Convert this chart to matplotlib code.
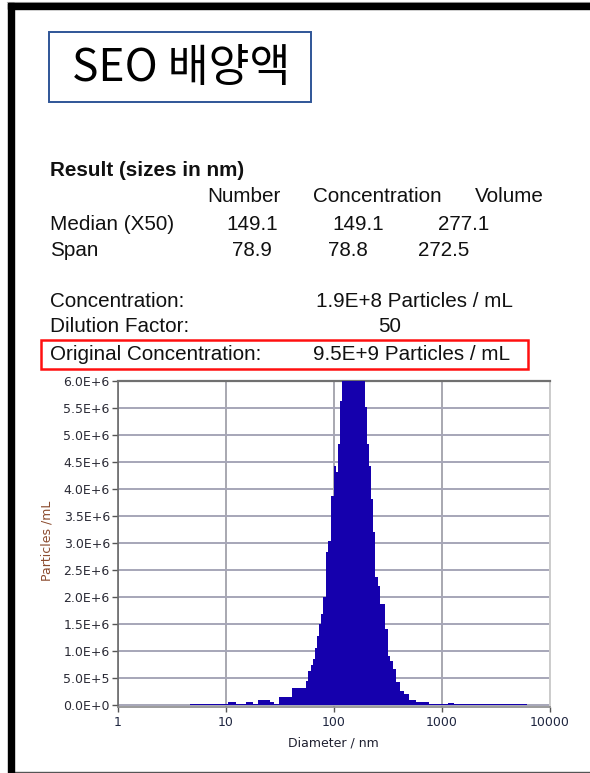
import numpy as np
import matplotlib
matplotlib.use("Agg")
import matplotlib.pyplot as plt
from matplotlib.patches import Rectangle
from matplotlib.ticker import FuncFormatter, FixedLocator

# ---------------- data ----------------
title_text = "SEO 배양액"
result_title = "Result (sizes in nm)"
col_headers = ["Number", "Concentration", "Volume"]
median_vals = ["149.1", "149.1", "277.1"]
span_vals = ["78.9", "78.8", "272.5"]
conc_label, conc_value = "Concentration:", "1.9E+8 Particles / mL"
dil_label, dil_value = "Dilution Factor:", "50"
orig_label, orig_value = "Original Concentration:", "9.5E+9 Particles / mL"

# histogram bin edges (nm) and heights (particles/mL)
bin_edges = [4.7, 10.5, 12.5, 15.5, 18, 20, 26, 28, 31, 41, 55, 58, 61, 64, 67,
             70, 73, 76, 80, 84, 89, 95, 100, 104, 109, 114, 118, 196, 204, 213,
             222, 232, 243, 256, 270, 296, 315, 330, 350, 380, 410, 450, 500,
             580, 760, 1150, 1300, 6100]
bin_heights = [0.02, 0.06, 0.02, 0.05, 0.03, 0.10, 0.06, 0.03, 0.15, 0.32, 0.45,
               0.63, 0.75, 0.85, 1.05, 1.28, 1.50, 1.68, 2.00, 2.83, 3.04, 3.87,
               4.43, 4.31, 4.83, 5.63, 6.50, 5.52, 4.83, 4.43, 3.81, 3.20, 2.37,
               2.20, 1.87, 1.41, 0.91, 0.81, 0.67, 0.42, 0.26, 0.20, 0.10, 0.05,
               0.02, 0.04, 0.02]
bin_heights = [h * 1e6 for h in bin_heights]

y_ticks = [0, 0.5e6, 1.0e6, 1.5e6, 2.0e6, 2.5e6, 3.0e6, 3.5e6, 4.0e6, 4.5e6,
           5.0e6, 5.5e6, 6.0e6]
x_ticks = [1, 10, 100, 1000, 10000]
x_tick_labels = ["1", "10", "100", "1000", "10000"]

# ---------------- figure ----------------
W, H = 590, 773
fig = plt.figure(figsize=(W / 100, H / 100), dpi=100)
fig.patch.set_facecolor("white")


def fx(px):
    return px / W


def fy(py):
    return 1 - py / H


# page border
fig.patches.append(Rectangle((fx(8), fy(9)), fx(590 - 8), 6 / H, transform=fig.transFigure,
                             color="black", zorder=5))
fig.patches.append(Rectangle((fx(8), 0), 6 / W, fy(3), transform=fig.transFigure,
                             color="black", zorder=5))
fig.add_artist(plt.Line2D([fx(7), 1], [fy(1.5), fy(1.5)], transform=fig.transFigure,
                          color="#b0b0b0", lw=0.8))
fig.add_artist(plt.Line2D([fx(14), 1], [fy(772), fy(772)], transform=fig.transFigure,
                          color="#555555", lw=1.0))

# title box
fig.patches.append(Rectangle((fx(49), fy(102)), fx(311 - 49), (102 - 32) / H,
                             transform=fig.transFigure, fill=False,
                             edgecolor="#2F5597", lw=1.4))
fig.text(fx(181), fy(68), title_text, ha="center", va="center", fontsize=32,
         family=["Noto Sans CJK KR", "DejaVu Sans"], color="black")

# result table
tf = dict(family=["Liberation Sans", "DejaVu Sans"], fontsize=14.9, color="#111111",
          va="center")
fig.text(fx(50), fy(171), result_title, fontweight="bold", **tf)
for txt, x in zip(col_headers, [207, 313, 475]):
    fig.text(fx(x), fy(197), txt, ha="left", **tf)
fig.text(fx(50), fy(224), "Median (X50)", ha="left", **tf)
for txt, x in zip(median_vals, [226, 332, 438]):
    fig.text(fx(x), fy(224), txt, ha="left", **tf)
fig.text(fx(50), fy(250), "Span", ha="left", **tf)
for txt, x in zip(span_vals, [232, 328, 418]):
    fig.text(fx(x), fy(250), txt, ha="left", **tf)
fig.text(fx(50), fy(301), conc_label, ha="left", **tf)
fig.text(fx(316), fy(301), conc_value, ha="left", **tf)
fig.text(fx(50), fy(327), dil_label, ha="left", **tf)
fig.text(fx(378), fy(327), dil_value, ha="left", **tf)
fig.text(fx(50), fy(354), orig_label, ha="left", **tf)
fig.text(fx(313), fy(354), orig_value, ha="left", **tf)
fig.patches.append(Rectangle((fx(41), fy(369)), fx(528 - 41), (369 - 340) / H,
                             transform=fig.transFigure, fill=False,
                             edgecolor="#FF1010", lw=1.8))

# ---------------- chart ----------------
ax_l, ax_r, ax_t, ax_b = 117.5, 550, 381, 706.5
ax = fig.add_axes([fx(ax_l), fy(ax_b), fx(ax_r - ax_l), (ax_b - ax_t) / H])
ax.set_xscale("log")
ax.set_xlim(1, 10000)
ax.set_ylim(-2.5e4, 6.0e6)

ax.stairs(bin_heights, bin_edges, fill=True, color="#1500AD", zorder=3, baseline=0)

ax.yaxis.set_major_locator(FixedLocator(y_ticks))
ax.xaxis.set_major_locator(FixedLocator(x_ticks))
ax.xaxis.set_minor_locator(FixedLocator([]))
ax.set_xticklabels(x_tick_labels)


def sci(v, pos):
    if v <= 0:
        return "0.0E+0"
    e = int(np.floor(np.log10(v) + 1e-9))
    return f"{v / 10 ** e:.1f}E+{e}"


ax.yaxis.set_major_formatter(FuncFormatter(sci))

ax.grid(True, axis="y", color="#A6A6B8", lw=1.4, zorder=1)
ax.grid(True, axis="x", color="#A8A8B0", lw=1.4, zorder=1)
ax.set_axisbelow(True)

for s, c, w in [("left", "#6a6a6a", 1.2), ("bottom", "#8a8a8a", 1.2),
                ("top", "#707070", 1.6), ("right", "#cccccc", 1.4)]:
    ax.spines[s].set_color(c)
    ax.spines[s].set_linewidth(w)

ax.tick_params(axis="y", direction="out", length=4, width=1, color="#555555",
               labelsize=9, labelcolor="#2a2a35", pad=1.5)
ax.tick_params(axis="x", direction="out", length=3.5, width=1, color="#555555",
               labelsize=9, labelcolor="#1f2640", pad=3)

fig.text(fx(47), fy(541), "Particles /mL", rotation=90, ha="center", va="center",
         fontsize=9, color="#8B4B2E")
fig.text(fx(333), fy(743), "Diameter / nm", ha="center", va="center",
         fontsize=9, color="#1f2030")

fig.savefig("out.png", dpi=100, facecolor="white")
